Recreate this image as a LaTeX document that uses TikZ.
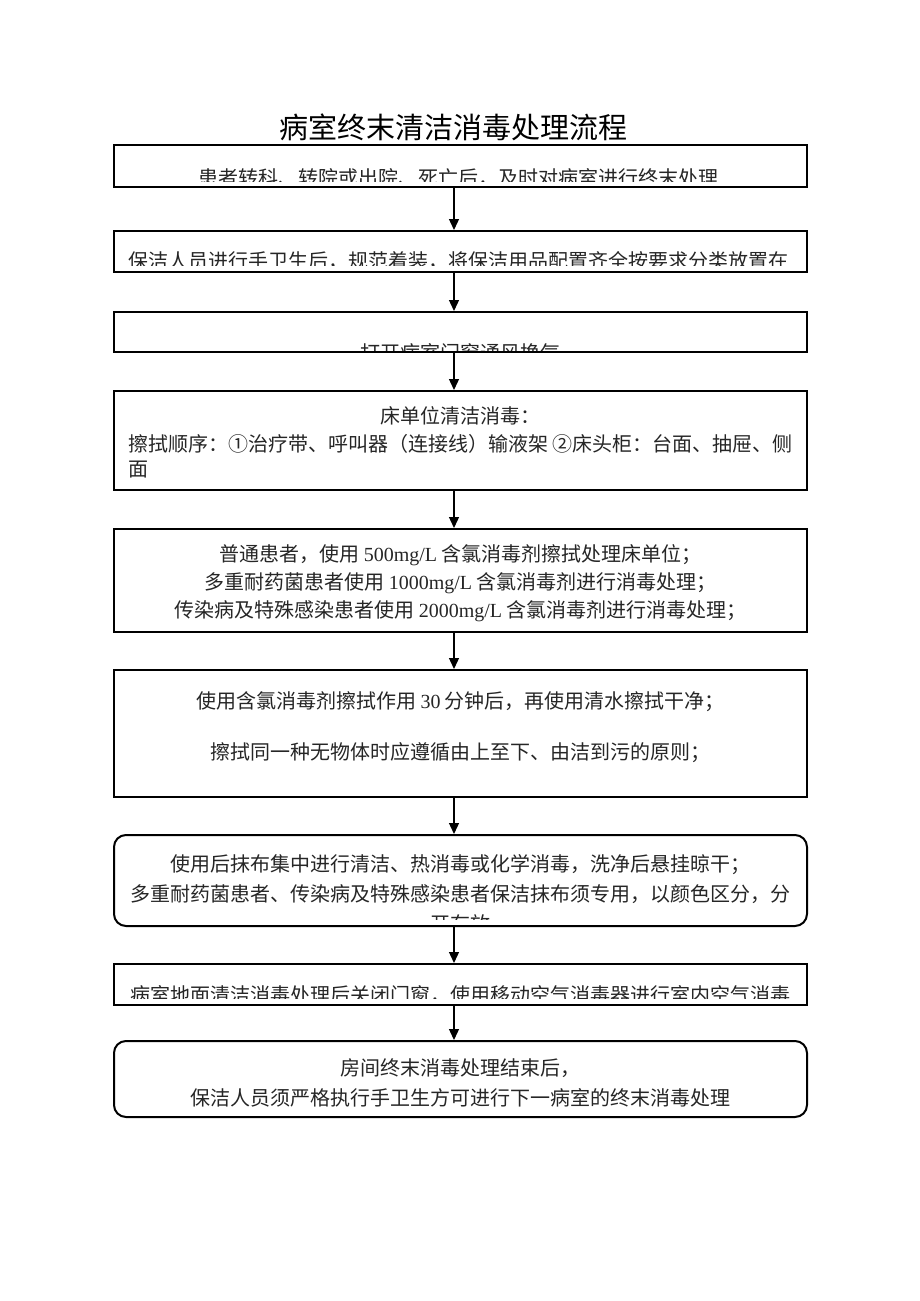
\documentclass[tikz,border=0pt]{standalone}
\usepackage{fontspec}
\setmainfont{Noto Sans CJK SC}
\newfontfamily\lat{Liberation Serif}
\usetikzlibrary{arrows.meta}
\tikzset{
  box/.style={draw=black, line width=2pt, minimum width=693pt, inner sep=0pt, fill=white},
  rbox/.style={box, rounded corners=12pt},
  txt/.style={anchor=base, inner sep=0pt, font=\fontsize{20pt}{24pt}\selectfont, text=black!85},
  ltxt/.style={txt, anchor=base west},
  arr/.style={line width=1.3pt, -{Triangle[width=10pt,length=11pt]}},
}
\begin{document}
\begin{tikzpicture}[x=1pt,y=-1pt]
\useasboundingbox[fill=white] (0,0) rectangle (920,1301);
% title
\node[anchor=base, inner sep=0pt, font=\fontsize{29pt}{34pt}\selectfont] (title) at (453,138) {病室终末清洁消毒处理流程};
% boxes
\node[box, minimum height=42pt] (b1) at (460.5,166) {};
\node[box, minimum height=41pt] (b2) at (460.5,251.5) {};
\node[box, minimum height=40pt] (b3) at (460.5,332) {};
\node[box, minimum height=99pt] (b4) at (460.5,440.5) {};
\node[box, minimum height=103pt] (b5) at (460.5,580.5) {};
\node[box, minimum height=127pt] (b6) at (460.5,733.5) {};
\node[rbox, minimum height=91pt] (b7) at (460.5,880.5) {};
\node[box, minimum height=41pt] (b8) at (460.5,984.5) {};
\node[rbox, minimum height=76pt] (b9) at (460.5,1079) {};
% clipped texts
\begin{scope}
\clip (116,147) rectangle (805,181);
\node[txt] (t1) at (458,185.6) {患者转科、转院或出院、死亡后，及时对病室进行终末处理};
\end{scope}
\begin{scope}
\clip (116,233) rectangle (805,265);
\node[ltxt] (t2) at (128,268.6) {保洁人员进行手卫生后，规范着装，将保洁用品配置齐全按要求分类放置在};
\end{scope}
\begin{scope}
\clip (116,314) rectangle (805,350);
\node[txt] (t3) at (460.5,360.6) {打开病室门窗通风换气};
\end{scope}
% box 4
\node[txt] (t4a) at (460.5,423.6) {床单位清洁消毒：};
\node[ltxt] (t4b) at (128,451.6) {擦拭顺序：①治疗带、呼叫器（连接线）输液架 ②床头柜：台面、抽屉、侧};
\node[ltxt] (t4c) at (128,476.6) {面};
% box 5
\node[txt] (t5a) at (460.5,561.6) {普通患者，使用 {\lat 500mg/L} 含氯消毒剂擦拭处理床单位；};
\node[txt] (t5b) at (460.5,589.6) {多重耐药菌患者使用 {\lat 1000mg/L} 含氯消毒剂进行消毒处理；};
\node[txt] (t5c) at (460.5,617.6) {传染病及特殊感染患者使用 {\lat 2000mg/L} 含氯消毒剂进行消毒处理；};
% box 6
\node[txt] (t6a) at (460.5,708.6) {使用含氯消毒剂擦拭作用 {\lat 30} 分钟后，再使用清水擦拭干净；};
\node[txt] (t6b) at (460.5,759.6) {擦拭同一种无物体时应遵循由上至下、由洁到污的原则；};
% box 7
\node[txt] (t7a) at (460.5,871.6) {使用后抹布集中进行清洁、热消毒或化学消毒，洗净后悬挂晾干；};
\node[txt] (t7b) at (460.5,901.6) {多重耐药菌患者、传染病及特殊感染患者保洁抹布须专用，以颜色区分，分};
\begin{scope}
\clip (116,900) rectangle (805,919);
\node[txt] (t7c) at (460.5,931) {开存放};
\end{scope}
% box 8
\begin{scope}
\clip (116,966) rectangle (805,998);
\node[txt] (t8) at (460.5,1002.6) {病室地面清洁消毒处理后关闭门窗，使用移动空气消毒器进行室内空气消毒};
\end{scope}
% box 9
\node[txt] (t9a) at (460.5,1075.6) {房间终末消毒处理结束后，};
\node[txt] (t9b) at (460.5,1105.6) {保洁人员须严格执行手卫生方可进行下一病室的终末消毒处理};
% arrows
\foreach \a/\b in {b1/b2,b2/b3,b3/b4,b4/b5,b5/b6,b6/b7,b7/b8,b8/b9}{
  \draw[arr] ([xshift=-6.5pt]\a.south) -- ([xshift=-6.5pt]\b.north);
}
\end{tikzpicture}
\end{document}
